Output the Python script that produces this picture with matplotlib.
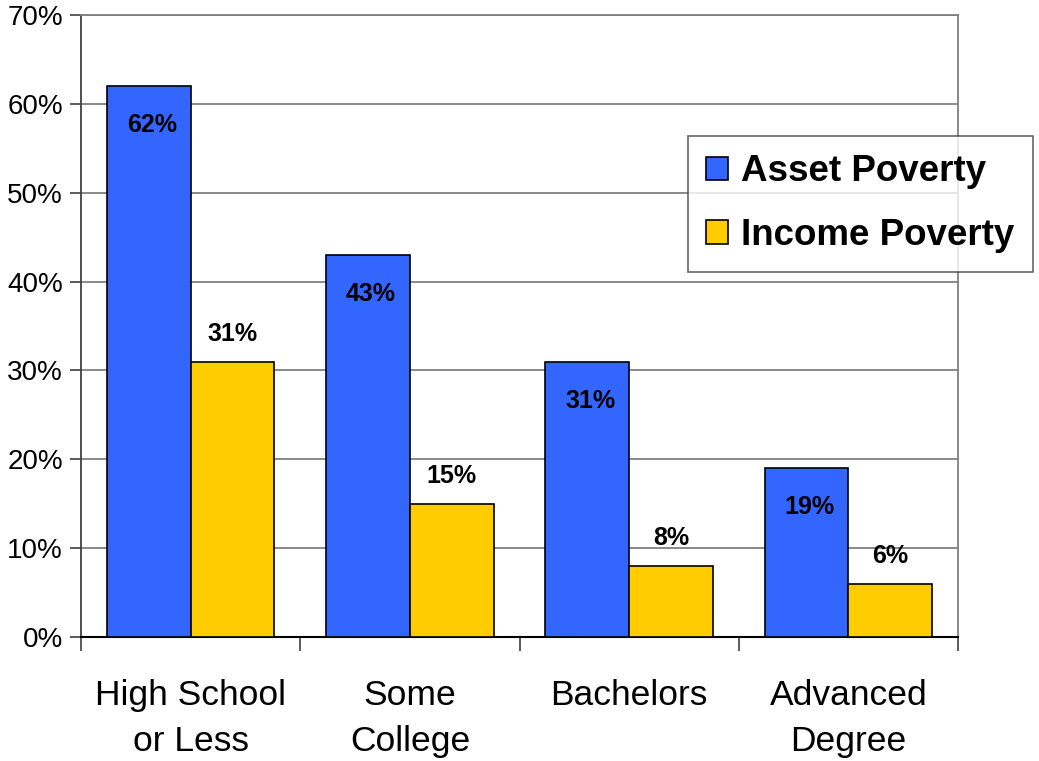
import matplotlib
matplotlib.use("Agg")
import matplotlib.pyplot as plt
from matplotlib.patches import Patch
import numpy as np

categories = ["High School\nor Less", "Some\nCollege", "Bachelors", "Advanced\nDegree"]
asset_poverty = [62, 43, 31, 19]
income_poverty = [31, 15, 8, 6]
series_names = ["Asset Poverty", "Income Poverty"]
yticks = [0, 10, 20, 30, 40, 50, 60, 70]

plt.rcParams['font.family'] = ['Liberation Sans', 'DejaVu Sans']

BLUE = "#3366FF"
YELLOW = "#FFCC00"

fig = plt.figure(figsize=(10.39, 7.61), dpi=100)
ax = fig.add_axes([81/1039, 1-637/761, (958-81)/1039, (637-15)/761])

x = np.arange(len(categories))
w = 0.382
b1 = ax.bar(x - w/2, asset_poverty, w, color=BLUE, edgecolor="black", linewidth=1.2, zorder=3)
b2 = ax.bar(x + w/2, income_poverty, w, color=YELLOW, edgecolor="black", linewidth=1.2, zorder=3)

for rect, v in zip(b1, asset_poverty):
    ax.annotate(f"{v}%", (rect.get_x() + rect.get_width()/2, v), xytext=(3, -39),
                textcoords="offset pixels", ha="center", va="center",
                fontsize=18, fontweight="bold", zorder=4)
for rect, v in zip(b2, income_poverty):
    ax.annotate(f"{v}%", (rect.get_x() + rect.get_width()/2, v), xytext=(0, 28),
                textcoords="offset pixels", ha="center", va="center",
                fontsize=18, fontweight="bold", zorder=4)

ax.set_xlim(-0.5, len(categories) - 0.5)
ax.set_ylim(0, 70)
ax.set_yticks(yticks)
ax.set_yticklabels([f"{t}%" for t in yticks], fontsize=20)
ax.yaxis.grid(True, color="#808080", linewidth=1.3, zorder=0)
ax.set_axisbelow(True)

ax.set_xticks(x)
ax.set_xticklabels(categories, fontsize=25.5, linespacing=1.5)
ax.tick_params(axis="x", which="major", length=0, pad=30)
ax.set_xticks(np.arange(-0.5, len(categories), 1.0), minor=True)
ax.tick_params(axis="x", which="minor", length=10, width=1.2, color="#404040", direction="out")
ax.tick_params(axis="y", length=8, width=1.2, color="#404040", pad=5)

for s in ["top", "right"]:
    ax.spines[s].set_color("#808080")
    ax.spines[s].set_linewidth(1.3)
ax.spines["left"].set_color("#404040")
ax.spines["left"].set_linewidth(1.3)
ax.spines["bottom"].set_color("black")
ax.spines["bottom"].set_linewidth(1.5)

handles = [Patch(facecolor=BLUE, edgecolor="black", linewidth=1.2),
           Patch(facecolor=YELLOW, edgecolor="black", linewidth=1.2)]
leg = fig.legend(handles, series_names, loc="upper left",
                 bbox_to_anchor=(688/1039, 1-136/761),
                 prop={"size": 26.5, "weight": "bold"}, frameon=True, fancybox=False,
                 edgecolor="#404040", handlelength=0.6, handleheight=0.6,
                 handletextpad=0.35, labelspacing=0.78, borderpad=0.5, borderaxespad=0)
leg.get_frame().set_linewidth(1.2)

fig.savefig("out.png", dpi=100)
